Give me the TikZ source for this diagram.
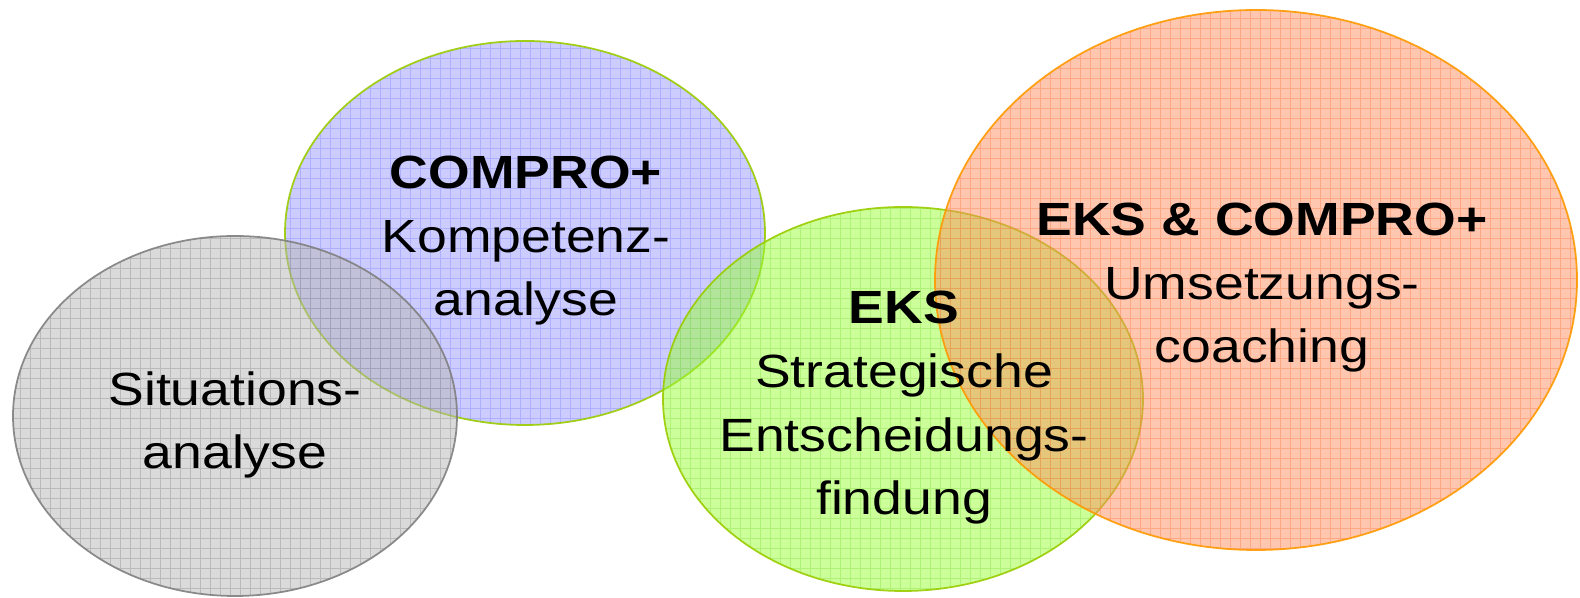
\documentclass[tikz,border=0pt]{standalone}
\usepackage{fontspec}
\setmainfont{Liberation Sans}[FakeStretch=1.15]
\usepackage{tikz}

\definecolor{grayfill}{HTML}{B6B6B6}
\definecolor{graygrid}{HTML}{8A8A8A}
\definecolor{grayline}{HTML}{808080}
\definecolor{bluefill}{HTML}{9999FF}
\definecolor{bluegrid}{HTML}{8585FF}
\definecolor{greenfill}{HTML}{99FF33}
\definecolor{greengrid}{HTML}{85E047}
\definecolor{limeline}{HTML}{99CC00}
\definecolor{orangefill}{HTML}{FF8F61}
\definecolor{orangegrid}{HTML}{FF7A40}
\definecolor{orangeline}{HTML}{FF9900}

\begin{document}
\begin{tikzpicture}[
    label/.style={align=center, anchor=base, inner sep=0pt,
      font=\fontsize{26.5pt}{36.4pt}\selectfont},
    rim/.style={line width=1pt, draw opacity=0.9},
    mesh/.style={line width=0.5pt, opacity=0.4, step=0.2}]
  \useasboundingbox (0,0) rectangle (31.6,11.96);

  %% Centres
  \coordinate (K) at (10.50,7.30);
  \coordinate (S) at (4.70,3.64);
  \coordinate (E) at (18.06,3.98);
  \coordinate (U) at (25.12,6.36);

  %% Kompetenzanalyse
  \fill[bluefill, fill opacity=0.5] (K) ellipse [x radius=4.8, y radius=3.84];
  \begin{scope}
    \clip (K) ellipse [x radius=4.8, y radius=3.84];
    \draw[bluegrid, mesh] (0,0) grid (31.6,11.96);
  \end{scope}
  \draw[limeline, rim] (K) ellipse [x radius=4.8, y radius=3.84];

  %% Situationsanalyse
  \fill[grayfill, fill opacity=0.5] (S) ellipse [x radius=4.44, y radius=3.6];
  \begin{scope}
    \clip (S) ellipse [x radius=4.44, y radius=3.6];
    \draw[graygrid, mesh] (0,0) grid (31.6,11.96);
  \end{scope}
  \draw[grayline, rim] (S) ellipse [x radius=4.44, y radius=3.6];

  %% Entscheidungsfindung
  \fill[greenfill, fill opacity=0.5] (E) ellipse [x radius=4.8, y radius=3.84];
  \begin{scope}
    \clip (E) ellipse [x radius=4.8, y radius=3.84];
    \draw[greengrid, mesh] (0,0) grid (31.6,11.96);
  \end{scope}
  \draw[limeline, rim] (E) ellipse [x radius=4.8, y radius=3.84];

  %% Umsetzungscoaching
  \fill[orangefill, fill opacity=0.5] (U) ellipse [x radius=6.42, y radius=5.4];
  \begin{scope}
    \clip (U) ellipse [x radius=6.42, y radius=5.4];
    \draw[orangegrid, mesh] (0,0) grid (31.6,11.96);
  \end{scope}
  \draw[orangeline, rim] (U) ellipse [x radius=6.42, y radius=5.4];

  %% Labels
  \node[label] (sit) at (4.70,2.58) {Situations-\\analyse};
  \node[label] (kom) at (10.52,5.64) {\textbf{COMPRO+}\\Kompetenz-\\analyse};
  \node[label] (ent) at (18.08,1.66) {\textbf{EKS}\\Strategische\\Entscheidungs-\\findung};
  \node[label] (ums) at (25.24,4.70) {\textbf{EKS \& COMPRO+}\\Umsetzungs-\\coaching};
\end{tikzpicture}
\end{document}
